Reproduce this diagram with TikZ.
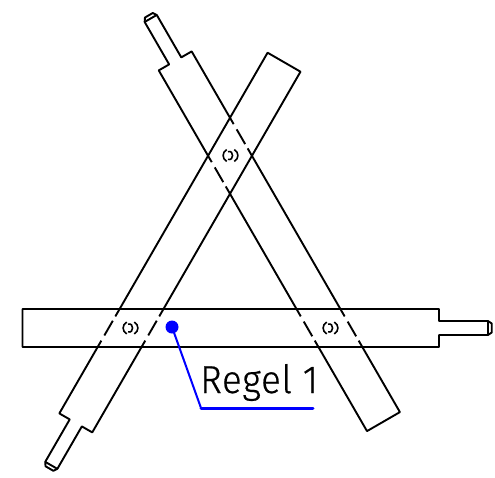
\documentclass[tikz,border=0pt]{standalone}
\usepackage{fontspec}
\setmainfont{Liberation Sans}
\newfontfamily\labelfont[LetterSpace=2,FakeBold=0.6]{Fira Sans Light}
\newcommand{\pinend}{(439,309)--(439,321)--(488,321)--(491.7,323.5)--(491.7,332.5)--(488,335)--(439,335)--(439,347)}
\newcommand{\plainbar}[1]{%
  \begin{scope}[rotate around={#1:(230,270.6)}]
    \draw[barline] (341,309)--\pinend--(363,347);
    \draw[barline] (297,309)--(163,309);
    \draw[barline] (319,347)--(141,347);
    \draw[barline] (119,309)--(22.5,309)--(22.5,347)--(97,347);
    \draw[barline] (488,321)--(488,335);
  \end{scope}}
\tikzset{
  barline/.style={line width=1.9pt,line join=round,line cap=butt,black},
  hiddenline/.style={barline,dash pattern=on 8pt off 5pt on 17pt off 6pt on 8pt},
  leader/.style={draw=blue,line join=round,line cap=round},
  pivotmark/.style={line width=1.6pt,black},
  dotmark/.style={circle,fill=blue,inner sep=0pt,minimum size=13pt},
  labeltext/.style={inner sep=0pt,anchor=base west,font=\fontsize{39pt}{39pt}\labelfont,xscale=0.94,black}
}
\newcommand{\pivot}[2]{%
  \begin{scope}[shift={(#1,#2)}]
    \draw[pivotmark] (-3.8,-6) .. controls (-8.6,-3) and (-8.6,3) .. (-3.8,6);
    \draw[pivotmark] (3.8,-6) .. controls (8.6,-3) and (8.6,3) .. (3.8,6);
    \draw[pivotmark] (-2.5,-3.8) .. controls (3.6,-5.8) and (3.6,5.8) .. (-2.5,3.8);
  \end{scope}}
\begin{document}
\begin{tikzpicture}[x=1pt,y=-1pt]
\useasboundingbox (0,0) rectangle (495,477);
% horizontal bar, lies on top
\draw[barline] (22.5,309)--\pinend--(22.5,347)--cycle;
\draw[barline] (488,321)--(488,335);
% descending bar, hidden at both crossings
\plainbar{120}
\begin{scope}[rotate around={120:(230,270.6)}]
  \draw[hiddenline] (119,309)--(163,309);
  \draw[hiddenline] (97,347)--(141,347);
  \draw[hiddenline] (297,309)--(341,309);
  \draw[hiddenline] (319,347)--(363,347);
\end{scope}
% ascending bar, hidden at the crossing with the horizontal bar
\plainbar{240}
\begin{scope}[rotate around={240:(230,270.6)}]
  \draw[barline] (119,309)--(163,309);
  \draw[barline] (97,347)--(141,347);
  \draw[hiddenline] (297,309)--(341,309);
  \draw[hiddenline] (319,347)--(363,347);
\end{scope}
\pivot{130.5}{328}
\pivot{330.5}{328}
\pivot{230.5}{155.5}
\node[dotmark] (dot) at (172,327) {};
\node[labeltext] (lbl) at (200,393) {Regel 1};
\coordinate (knee) at (201,408);
\coordinate (tail) at (313,408);
\draw[leader,line width=2pt] (dot.center)--(knee);
\draw[leader,line width=3pt] (knee)--(tail);
\end{tikzpicture}
\end{document}
